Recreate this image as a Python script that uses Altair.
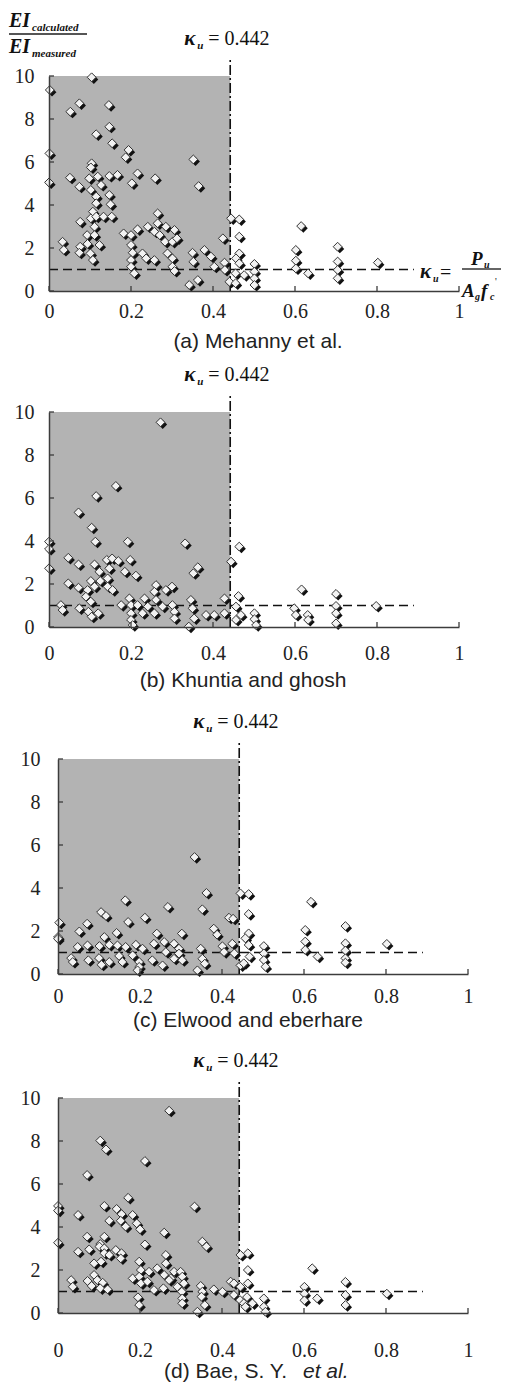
import altair as alt
import pandas as pd

# ---------------- data ----------------
KU = 0.442
X_TICKS = [0, 0.2, 0.4, 0.6, 0.8, 1]
Y_TICKS = [0, 2, 4, 6, 8, 10]
REF_Y = 1.0
REF_X_END = 0.89
Y_MAX = 10
KU_LINE_TOP = 10.75

A_X = [0.104, 0.002, 0.052, 0.074, 0.146, 0.115, 0.147, 0.154, 0.194, 0.187, 0.001, 0.352, 0.104, 0.102, 0.000,
       0.051, 0.074, 0.098, 0.119, 0.127, 0.147, 0.167, 0.202, 0.216, 0.259, 0.365, 0.102, 0.115, 0.147, 0.115,
       0.150, 0.107, 0.076, 0.102, 0.115, 0.133, 0.153, 0.265, 0.093, 0.111, 0.111, 0.094, 0.123, 0.033, 0.036,
       0.076, 0.074, 0.101, 0.107, 0.182, 0.200, 0.216, 0.241, 0.265, 0.257, 0.270, 0.285, 0.306, 0.283, 0.301,
       0.312, 0.200, 0.204, 0.228, 0.200, 0.237, 0.257, 0.289, 0.301, 0.200, 0.208, 0.301, 0.306, 0.350, 0.352,
       0.379, 0.395, 0.424, 0.403, 0.428, 0.429, 0.342, 0.363, 0.440, 0.444, 0.464, 0.464, 0.464, 0.456, 0.464,
       0.455, 0.476, 0.455, 0.501, 0.501, 0.501, 0.501, 0.615, 0.602, 0.602, 0.602, 0.632, 0.704, 0.704, 0.704,
       0.704, 0.802]
A_Y = [9.94, 9.35, 8.34, 8.73, 8.65, 7.29, 7.64, 6.87, 6.56, 6.22, 6.40, 6.12, 5.94, 5.75, 5.05,
       5.27, 4.85, 5.24, 5.32, 4.93, 5.35, 5.40, 5.01, 5.47, 5.24, 4.88, 4.70, 4.39, 4.47, 4.08,
       4.03, 3.69, 3.22, 3.38, 3.46, 3.46, 3.46, 3.61, 2.60, 2.99, 2.60, 2.19, 2.14, 2.29, 1.91,
       2.06, 1.78, 1.75, 1.44, 2.68, 2.60, 2.87, 2.99, 3.15, 2.76, 2.60, 2.99, 2.84, 2.29, 2.29,
       2.45, 2.14, 1.78, 1.75, 1.44, 1.52, 1.44, 1.75, 1.52, 1.13, 0.82, 1.13, 0.93, 1.78, 1.36,
       1.91, 1.60, 2.45, 1.13, 1.32, 0.98, 0.28, 0.51, 0.43, 3.38, 3.33, 2.53, 1.75, 1.52, 1.29,
       0.82, 0.74, 0.36, 1.26, 0.90, 0.59, 0.28, 3.02, 1.91, 1.41, 1.05, 0.82, 2.06, 1.37, 0.98,
       0.59, 1.32]

B_X = [0.272, 0.163, 0.115, 0.072, 0.104, 0.000, 0.000, 0.113, 0.192, 0.332, 0.000, 0.047, 0.072, 0.111, 0.123,
       0.141, 0.154, 0.169, 0.198, 0.185, 0.212, 0.147, 0.363, 0.352, 0.047, 0.072, 0.094, 0.102, 0.111, 0.125,
       0.143, 0.143, 0.155, 0.090, 0.102, 0.029, 0.033, 0.074, 0.096, 0.104, 0.120, 0.176, 0.196, 0.200, 0.200,
       0.200, 0.204, 0.216, 0.233, 0.228, 0.241, 0.261, 0.257, 0.261, 0.257, 0.285, 0.300, 0.277, 0.301, 0.306,
       0.306, 0.346, 0.350, 0.354, 0.341, 0.383, 0.403, 0.428, 0.428, 0.464, 0.444, 0.462, 0.456, 0.468, 0.456,
       0.501, 0.501, 0.505, 0.616, 0.598, 0.602, 0.631, 0.632, 0.700, 0.700, 0.700, 0.700, 0.798]
B_Y = [9.52, 6.56, 6.09, 5.33, 4.62, 3.97, 3.63, 3.97, 3.97, 3.89, 2.73, 3.22, 2.91, 2.91, 2.57,
       3.12, 3.19, 3.07, 3.12, 2.57, 2.39, 2.73, 2.78, 2.50, 2.03, 1.83, 1.72, 2.14, 1.88, 2.14,
       2.26, 1.88, 1.72, 1.41, 1.18, 1.02, 0.79, 0.87, 0.71, 0.48, 0.64, 1.02, 1.33, 1.02, 0.64,
       0.33, 0.09, 1.02, 1.33, 0.64, 0.95, 1.95, 1.64, 1.26, 0.64, 1.72, 1.88, 0.95, 1.02, 0.71,
       0.40, 1.26, 0.87, 0.40, 0.02, 0.56, 0.56, 1.33, 0.64, 3.74, 3.04, 1.44, 0.95, 0.56, 0.33,
       0.64, 0.36, 0.09, 1.75, 0.87, 0.56, 0.56, 0.33, 1.54, 0.98, 0.64, 0.17, 0.98]

C_X = [0.333, 0.362, 0.164, 0.352, 0.105, 0.117, 0.268, 0.212, 0.171, 0.003, 0.071, 0.052, 0.000, 0.000, 0.143,
       0.113, 0.241, 0.302, 0.380, 0.388, 0.417, 0.427, 0.048, 0.072, 0.101, 0.125, 0.145, 0.165, 0.190, 0.206,
       0.234, 0.259, 0.283, 0.295, 0.348, 0.401, 0.425, 0.032, 0.036, 0.074, 0.100, 0.106, 0.125, 0.149, 0.157,
       0.182, 0.198, 0.198, 0.194, 0.230, 0.255, 0.283, 0.303, 0.263, 0.295, 0.352, 0.358, 0.340, 0.445, 0.405,
       0.445, 0.465, 0.465, 0.465, 0.457, 0.465, 0.430, 0.467, 0.453, 0.502, 0.502, 0.502, 0.506, 0.617, 0.603,
       0.603, 0.603, 0.633, 0.701, 0.701, 0.701, 0.701, 0.701, 0.802]
C_Y = [5.44, 3.77, 3.43, 3.01, 2.88, 2.70, 3.12, 2.62, 2.42, 2.39, 2.34, 1.98, 1.72, 1.64, 1.91,
       1.72, 1.88, 1.88, 2.11, 1.83, 2.62, 2.57, 1.26, 1.33, 1.30, 1.36, 1.33, 1.26, 1.36, 1.18,
       1.41, 1.49, 1.41, 1.18, 1.18, 1.29, 1.41, 0.74, 0.56, 0.64, 0.74, 0.43, 0.56, 0.84, 0.56,
       0.87, 0.56, 0.33, 0.17, 0.64, 0.40, 0.71, 0.64, 1.02, 0.95, 0.71, 0.48, 0.17, 0.40, 1.02,
       3.75, 3.72, 2.79, 1.89, 1.66, 1.35, 0.96, 0.81, 0.50, 1.30, 0.96, 0.65, 0.34, 3.36, 2.05,
       1.51, 1.12, 0.81, 2.23, 1.43, 1.09, 0.73, 0.53, 1.40]

D_X = [0.271, 0.103, 0.117, 0.212, 0.071, 0.171, 0.000, 0.000, 0.049, 0.113, 0.143, 0.155, 0.182, 0.125, 0.153,
       0.165, 0.192, 0.200, 0.333, 0.259, 0.000, 0.212, 0.352, 0.362, 0.071, 0.103, 0.101, 0.113, 0.113, 0.049,
       0.076, 0.141, 0.155, 0.153, 0.088, 0.105, 0.113, 0.125, 0.088, 0.096, 0.109, 0.072, 0.032, 0.036, 0.082,
       0.103, 0.121, 0.198, 0.202, 0.222, 0.182, 0.198, 0.202, 0.218, 0.242, 0.263, 0.263, 0.259, 0.275, 0.234,
       0.257, 0.271, 0.283, 0.299, 0.303, 0.307, 0.291, 0.302, 0.303, 0.303, 0.195, 0.198, 0.348, 0.352, 0.350,
       0.358, 0.340, 0.380, 0.401, 0.421, 0.429, 0.429, 0.444, 0.453, 0.445, 0.463, 0.463, 0.463, 0.445, 0.461,
       0.474, 0.457, 0.502, 0.502, 0.506, 0.620, 0.601, 0.601, 0.601, 0.632, 0.701, 0.701, 0.701, 0.802]
D_Y = [9.41, 8.02, 7.61, 7.07, 6.42, 5.36, 4.98, 4.76, 4.56, 4.98, 4.84, 4.60, 4.56, 4.29, 4.29,
       4.02, 4.17, 3.89, 4.95, 3.74, 3.27, 3.19, 3.32, 3.09, 3.55, 3.21, 3.09, 3.55, 3.01, 2.85,
       2.96, 2.93, 2.78, 2.54, 2.31, 2.39, 2.78, 2.70, 1.77, 1.53, 1.41, 1.49, 1.53, 1.22, 1.26,
       1.15, 1.10, 2.39, 2.00, 1.92, 1.61, 1.69, 1.38, 1.46, 2.08, 2.70, 2.31, 1.77, 1.61, 1.07,
       1.15, 1.53, 1.92, 1.92, 1.69, 1.38, 1.22, 0.99, 0.68, 0.45, 0.73, 0.37, 1.26, 0.99, 0.76,
       0.37, 0.06, 1.10, 0.99, 1.46, 1.38, 0.84, 0.60, 0.45, 2.70, 2.78, 2.00, 1.38, 1.22, 0.74,
       0.45, 0.29, 0.68, 0.29, 0.06, 2.08, 1.22, 0.90, 0.59, 0.68, 1.45, 0.84, 0.37, 0.90]

CAPTIONS = ["(a) Mehanny et al.", "(b) Khuntia and ghosh", "(c) Elwood and eberhare", "(d) Bae, S. Y."]
CAPTION_ITALIC = "et al."
KU_TEXT = "= 0.442"

# ---------------- styling / layout ----------------
SERIF = "Liberation Serif"
SANS = "Liberation Sans"
AXIS_COLOR = "#3c3c3c"
GREY = "#b3b3b3"
PH = 215  # plot height
MSIZE = 78


def text_layer(s, px, py, size, font=SERIF, bold=False, italic=False, align="left", color="#111111"):
    return alt.Chart(pd.DataFrame({"t": [s]})).mark_text(
        align=align, baseline="alphabetic", font=font, fontSize=size,
        fontWeight="bold" if bold else "normal",
        fontStyle="italic" if italic else "normal", color=color,
    ).encode(text="t:N", x=alt.value(px), y=alt.value(py))


def line_layer(px1, px2, py, width=1.3, color="#333333"):
    return alt.Chart(pd.DataFrame({"k": [0]})).mark_rule(color=color, strokeWidth=width).encode(
        x=alt.value(px1), x2=alt.value(px2), y=alt.value(py))


def panel(xs, ys, x0, off, xpad, ypad, extra_layers):
    W = 420
    H = PH + off
    xscale = alt.Scale(domain=[0, 1], range=[x0, x0 + 410], nice=False, zero=False)
    yscale = alt.Scale(domain=[0, Y_MAX], range=[H, off], nice=False, zero=False)
    xaxis = alt.Axis(values=X_TICKS, format="~g", ticks=False, grid=False, domainColor=AXIS_COLOR,
                     domainWidth=1.5, labelFont=SERIF, labelFontSize=20, labelColor="#222222",
                     labelPadding=xpad, title=None, zindex=1, labelFlush=False)
    yaxis = alt.Axis(values=Y_TICKS, ticks=False, grid=False, domainColor=AXIS_COLOR, domainWidth=1.5,
                     labelFont=SERIF, labelFontSize=20, labelColor="#222222", labelPadding=ypad,
                     title=None, zindex=1, offset=-x0, labelFlush=False)

    def X(f):
        return alt.X(f, type="quantitative", scale=xscale, axis=xaxis)

    def Y(f):
        return alt.Y(f, type="quantitative", scale=yscale, axis=yaxis)

    pts = pd.DataFrame({"x": xs, "y": ys})
    rect = alt.Chart(pd.DataFrame({"x": [0], "x2": [KU], "y": [0], "y2": [Y_MAX]})).mark_rect(
        color=GREY).encode(x=X("x"), x2="x2", y=Y("y"), y2="y2")
    ref = alt.Chart(pd.DataFrame({"x": [0], "x2": [REF_X_END], "y": [REF_Y]})).mark_rule(
        color="#111111", strokeWidth=1.6, strokeDash=[9, 5]).encode(x=X("x"), x2="x2", y=Y("y"))
    kline = alt.Chart(pd.DataFrame({"x": [KU], "y": [0], "y2": [KU_LINE_TOP]})).mark_rule(
        color="#111111", strokeWidth=1.6, strokeDash=[10, 3, 2, 3]).encode(x=X("x"), y=Y("y"), y2="y2")
    shadow = alt.Chart(pts).mark_point(shape="diamond", filled=True, color="#111111", opacity=1,
                                       size=MSIZE, xOffset=2.2, yOffset=2.2).encode(x=X("x"), y=Y("y"))
    white = alt.Chart(pts).mark_point(shape="diamond", filled=True, fill="#f2f2f2", stroke="#333333",
                                      strokeWidth=1, opacity=1, size=MSIZE).encode(x=X("x"), y=Y("y"))
    xt = alt.Chart(pd.DataFrame({"x": X_TICKS})).mark_rule(color=AXIS_COLOR, strokeWidth=1.3).encode(
        x=X("x"), y=alt.value(H), y2=alt.value(H - 5))
    yt = alt.Chart(pd.DataFrame({"y": Y_TICKS})).mark_rule(color=AXIS_COLOR, strokeWidth=1.3).encode(
        y=Y("y"), x=alt.value(x0), x2=alt.value(x0 + 5))

    kd = pd.DataFrame({"x": [KU], "t": ["\u03ba"], "u": ["u"], "e": [KU_TEXT]})
    kbase = alt.Chart(kd)
    k1 = kbase.mark_text(align="left", baseline="alphabetic", font=SERIF, fontSize=21, fontWeight="bold",
                         fontStyle="italic", dx=-46, color="#111111").encode(
        x=X("x"), y=alt.value(off - 31), text="t:N")
    k2 = kbase.mark_text(align="left", baseline="alphabetic", font=SERIF, fontSize=11, fontWeight="bold",
                         fontStyle="italic", dx=-33, color="#111111").encode(
        x=X("x"), y=alt.value(off - 27), text="u:N")
    k3 = kbase.mark_text(align="left", baseline="alphabetic", font=SERIF, fontSize=20,
                         dx=-22, color="#111111").encode(
        x=X("x"), y=alt.value(off - 31), text="e:N")

    layers = [rect, ref, kline, shadow, white, xt, yt, k1, k2, k3] + extra_layers
    return alt.layer(*layers).properties(width=W, height=H)


# panel (a) extra annotations: y-axis fraction label and formula on the right
a_extra = [
    text_layer("EI", -40, -49, 20, bold=True, italic=True),
    text_layer("calculated", -17, -45, 11, bold=True, italic=True),
    line_layer(-40, 38, -42, 1.8, "#555555"),
    text_layer("EI", -40, -23, 20, bold=True, italic=True),
    text_layer("measured", -17, -19, 11, bold=True, italic=True),
    # kappa_u = P_u / (A_g f'_c)
    text_layer("\u03ba", 371, 202, 21, bold=True, italic=True),
    text_layer("u", 384, 206, 10, bold=True, italic=True),
    text_layer("=", 391, 203, 20),
    text_layer("P", 422, 189, 19, bold=True, italic=True),
    text_layer("u", 435, 192, 10, bold=True, italic=True),
    line_layer(413, 452, 193, 1.3),
    text_layer("A", 413, 221, 19, bold=True, italic=True),
    text_layer("g", 426, 224, 10, bold=True, italic=True),
    text_layer("f", 432, 221, 19, bold=True, italic=True),
    text_layer("c", 441, 224, 10, bold=True, italic=True),
    text_layer("'", 446, 209, 10),
    text_layer(CAPTIONS[0], 209, 272, 21, font=SANS, align="center", color="#222222"),
]
b_extra = [text_layer(CAPTIONS[1], 194, 275, 21, font=SANS, align="center", color="#222222")]
C_OFF = 11
D_OFF = 3
c_extra = [text_layer(CAPTIONS[2], 199, C_OFF + 268, 21, font=SANS, align="center", color="#222222")]
d_extra = [
    text_layer(CAPTIONS[3], 115, D_OFF + 280, 21, font=SANS, color="#222222"),
    text_layer(CAPTION_ITALIC, 254, D_OFF + 280, 21, font=SANS, italic=True, color="#222222"),
]

pa = panel(A_X, A_Y, 0, 0, 10, 15, a_extra)
pb = panel(B_X, B_Y, 0, 0, 16, 15, b_extra)
pc = panel(C_X, C_Y, 9, C_OFF, 12, 18, c_extra)
pd_ = panel(D_X, D_Y, 9, D_OFF, 27, 18, d_extra)

chart = alt.vconcat(pa, pb, pc, pd_, spacing=121, bounds="flush").properties(
    padding={"left": 0, "top": 3, "right": 0, "bottom": 1}
).configure_view(stroke=None)

chart.save("out.html", embed_options={"renderer": "svg", "actions": False})
